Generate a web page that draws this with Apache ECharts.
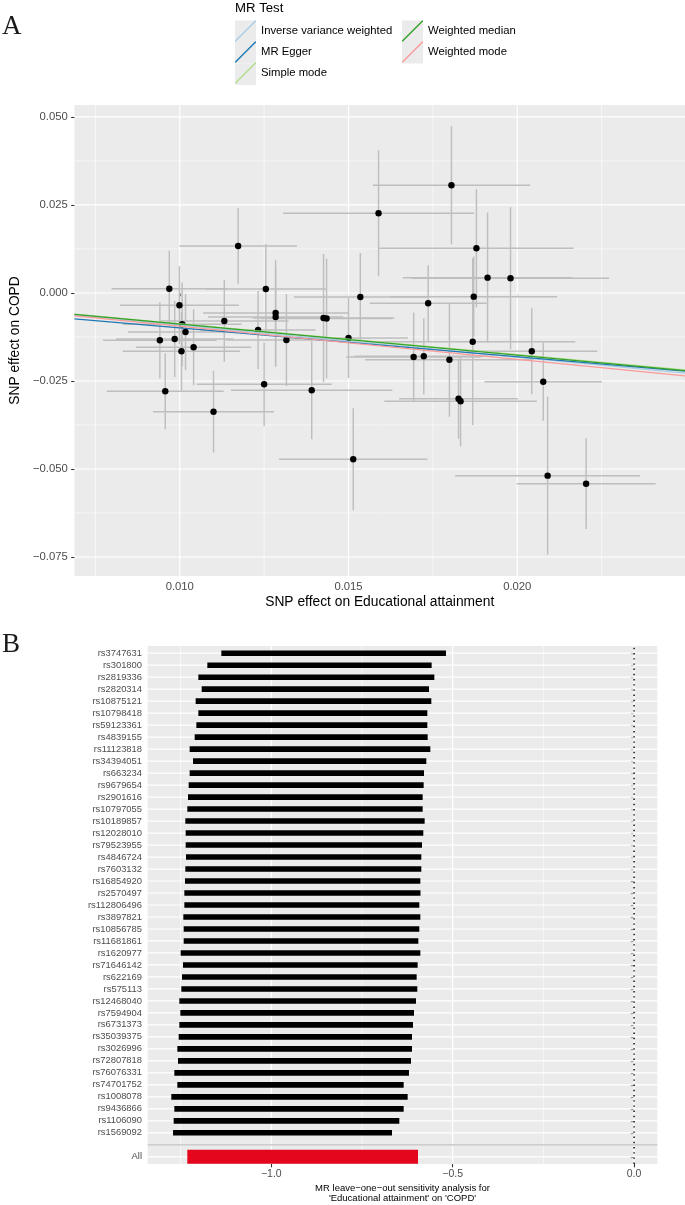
<!DOCTYPE html>
<html>
<head>
<meta charset="utf-8">
<script src="https://cdn.jsdelivr.net/npm/echarts@6/dist/echarts.min.js"></script>
<style>
html,body{margin:0;padding:0;background:#ffffff;}
#chart{width:685px;height:1205px;}
</style>
</head>
<body>
<div id="chart"></div>
<script>
// ---------------- Panel A data: SNP effects ----------------
const snpBetaExposure = [0.01173,0.00969,0.00999,0.01007,0.01017,0.00941,0.00985,0.01005,0.01041,0.01132,
  0.01255,0.01284,0.01284,0.01232,0.01316,0.01426,0.01435,0.01500,0.01535,0.00957,
  0.01250,0.01391,0.01100,0.01514,0.01805,0.01589,0.01879,0.01912,0.01980,0.01736,
  0.01871,0.01868,0.02043,0.01693,0.01723,0.01799,0.02077,0.01826,0.01832,0.02090,0.02204];
const snpBetaOutcome = [0.01335,0.00122,-0.00349,-0.00889,-0.01108,-0.01344,-0.01307,-0.01656,-0.01543,-0.00795,
  0.00114,-0.00568,-0.00682,-0.01051,-0.01335,-0.00710,-0.00724,-0.01278,-0.00114,-0.02793,
  -0.02594,-0.02764,-0.03372,-0.04724,0.03060,0.02264,0.01270,0.00435,0.00418,-0.00293,
  -0.00105,-0.01384,-0.01656,-0.01818,-0.01798,-0.01895,-0.02520,-0.03003,-0.03077,-0.05190,-0.05418];
const snpErrExposure = [0.00174,0.00171,0.00176,0.00176,0.00171,0.00168,0.00174,0.00174,0.00171,0.00190,
  0.00178,0.00215,0.00200,0.00170,0.00180,0.00210,0.00195,0.00176,0.00197,0.00173,
  0.00200,0.00239,0.00179,0.00220,0.00233,0.00283,0.00288,0.00251,0.00292,0.00173,
  0.00247,0.00304,0.00194,0.00200,0.00205,0.00250,0.00174,0.00176,0.00226,0.00274,0.00206];
const snpErrOutcome = [0.0107,0.0108,0.0111,0.0119,0.0108,0.0108,0.0108,0.0111,0.0108,0.0116,
  0.0128,0.0150,0.0142,0.0111,0.0131,0.0182,0.0170,0.0114,0.0125,0.0108,
  0.0119,0.0139,0.0116,0.0145,0.0168,0.0179,0.0168,0.0185,0.0202,0.0108,
  0.0114,0.0237,0.0122,0.0126,0.0108,0.0162,0.0111,0.0114,0.0128,0.0224,0.0129];

const methods = ['Inverse variance weighted','MR Egger','Simple mode','Weighted median','Weighted mode'];
const methodSlope = [-0.913,-0.818,-0.875,-0.884,-0.944];
const methodIntercept = [0,-0.00176,0,0,0];
const methodColors = ['#A6CEE3','#1F78B4','#B2DF8A','#33A02C','#FB9A99'];

const xTicksA = [0.010,0.015,0.020];
const xMinorA = [0.0075,0.0125,0.0175,0.0225];
const yTicksA = [-0.075,-0.050,-0.025,0.000,0.025,0.050];
const yMinorA = [-0.0625,-0.0375,-0.0125,0.0125,0.0375];

// ---------------- Panel B data: leave-one-out ----------------
const looSnps = ['rs3747631','rs301800','rs2819336','rs2820314','rs10875121','rs10798418','rs59123361','rs4839155',
  'rs11123818','rs34394051','rs663234','rs9679654','rs2901616','rs10797055','rs10189857','rs12028010','rs79523955',
  'rs4846724','rs7603132','rs16854920','rs2570497','rs112806496','rs3897821','rs10856785','rs11681861','rs1620977',
  'rs71646142','rs622169','rs575113','rs12468040','rs7594904','rs6731373','rs35039375','rs3026996','rs72807818',
  'rs76076331','rs74701752','rs1008078','rs9436866','rs1106090','rs1569092'];
const looLower = [-1.1377,-1.1763,-1.2011,-1.1919,-1.2085,-1.2011,-1.2066,-1.2112,-1.2250,-1.2158,-1.2250,-1.2278,
  -1.2296,-1.2315,-1.2370,-1.2360,-1.2360,-1.2351,-1.2370,-1.2379,-1.2397,-1.2397,-1.2425,-1.2415,-1.2415,-1.2498,
  -1.2434,-1.2461,-1.2480,-1.2535,-1.2507,-1.2535,-1.2553,-1.2590,-1.2572,-1.2673,-1.2590,-1.2756,-1.2673,-1.2691,-1.2709];
const looUpper = [-0.5185,-0.5580,-0.5506,-0.5653,-0.5589,-0.5699,-0.5699,-0.5690,-0.5617,-0.5727,-0.5791,-0.5800,
  -0.5828,-0.5828,-0.5773,-0.5810,-0.5846,-0.5865,-0.5865,-0.5892,-0.5888,-0.5920,-0.5892,-0.5920,-0.5947,-0.5892,
  -0.5966,-0.5993,-0.5975,-0.6012,-0.6067,-0.6094,-0.6122,-0.6122,-0.6149,-0.6205,-0.6351,-0.6241,-0.6351,-0.6471,-0.6673];
const allLabel = 'All';
const allLower = -1.2315;
const allUpper = -0.5956;

const xTicksB = [-1.0,-0.5,0.0];
const xMinorB = [-1.25,-0.75,-0.25];

// ---------------- helpers ----------------
const MINUS = '\u2212';
function fmt(v, d){ const s = Math.abs(v).toFixed(d); return (v < -1e-12 ? MINUS : '') + s; }

const xMinA = 0.00688, xMaxA = 0.02497, yMinA = -0.0804, yMaxA = 0.0534;
const xMinB = -1.3407, xMaxB = 0.064, yMinB = 0.4, yMaxB = 43.6;
const nRows = looSnps.length + 2; // All + blank separator + SNPs
function rowPos(i){ return nRows - i; } // top SNP at highest position

const FONT = 'Liberation Sans, Arial, sans-serif';

function vLines(values, xi, yi, yExt, color, width, z, dash){
  return {type:'custom', xAxisIndex:xi, yAxisIndex:yi, silent:true, z:z, clip:false,
    data: values.map(v => [v, yExt[0]]),
    encode:{x:0,y:1},
    renderItem:function(p, api){
      const v = api.value(0);
      const a = api.coord([v, yExt[0]]), b = api.coord([v, yExt[1]]);
      return {type:'line', shape:{x1:a[0],y1:a[1],x2:b[0],y2:b[1]},
        style:{stroke:color, lineWidth:width, lineDash: dash || null}};
    }};
}
function hLines(values, xi, yi, xExt, color, width, z){
  return {type:'custom', xAxisIndex:xi, yAxisIndex:yi, silent:true, z:z, clip:false,
    data: values.map(v => [xExt[0], v]),
    encode:{x:0,y:1},
    renderItem:function(p, api){
      const v = api.value(1);
      const a = api.coord([xExt[0], v]), b = api.coord([xExt[1], v]);
      return {type:'line', shape:{x1:a[0],y1:a[1],x2:b[0],y2:b[1]},
        style:{stroke:color, lineWidth:width}};
    }};
}

const series = [];
// Panel A grid lines
series.push(vLines(xMinorA,0,0,[yMinA,yMaxA],'#FFFFFF',0.6,1));
series.push(hLines(yMinorA,0,0,[xMinA,xMaxA],'#FFFFFF',0.6,1));
series.push(vLines(xTicksA,0,0,[yMinA,yMaxA],'#FFFFFF',1.2,1));
series.push(hLines(yTicksA,0,0,[xMinA,xMaxA],'#FFFFFF',1.2,1));

// Panel A error bars
series.push({type:'custom', xAxisIndex:0, yAxisIndex:0, silent:true, z:2,
  data: snpBetaExposure.map((x,i) => [x, snpBetaOutcome[i], snpErrExposure[i], snpErrOutcome[i]]),
  encode:{x:0,y:1},
  renderItem:function(p, api){
    const x = api.value(0), y = api.value(1), ex = api.value(2), ey = api.value(3);
    const h1 = api.coord([x-ex, y]), h2 = api.coord([x+ex, y]);
    const v1 = api.coord([x, y-ey]), v2 = api.coord([x, y+ey]);
    const st = {stroke:'#BEBEBE', lineWidth:1.45};
    return {type:'group', children:[
      {type:'line', shape:{x1:v1[0],y1:v1[1],x2:v2[0],y2:v2[1]}, style:st},
      {type:'line', shape:{x1:h1[0],y1:h1[1],x2:h2[0],y2:h2[1]}, style:st}
    ]};
  }});

// Panel A points
series.push({type:'scatter', xAxisIndex:0, yAxisIndex:0, z:3, symbolSize:6.4, silent:true,
  itemStyle:{color:'#000000', opacity:1},
  data: snpBetaExposure.map((x,i) => [x, snpBetaOutcome[i]])});

// Panel A regression lines
methods.forEach((m,i) => {
  series.push({type:'line', name:m, xAxisIndex:0, yAxisIndex:0, z:4, symbol:'none', silent:true,
    color: methodColors[i],
    itemStyle:{color:methodColors[i]},
    lineStyle:{color:methodColors[i], width:1.25},
    data: [[xMinA, methodIntercept[i] + methodSlope[i]*xMinA],[xMaxA, methodIntercept[i] + methodSlope[i]*xMaxA]]});
});

// Panel B grid lines
const rowValues = [];
for (let r = 1; r <= nRows; r++) rowValues.push(r);
series.push(vLines(xMinorB,1,1,[yMinB,yMaxB],'#FFFFFF',0.6,1));
series.push(vLines(xTicksB,1,1,[yMinB,yMaxB],'#FFFFFF',1.2,1));
series.push(hLines(rowValues,1,1,[xMinB,xMaxB],'#FFFFFF',1.2,1));
// dotted zero line
series.push(vLines([0],1,1,[yMinB,yMaxB],'#000000',1.4,2,[1.4,3.8]));
// separator line at blank row
series.push(hLines([2],1,1,[xMinB,xMaxB],'#BEBEBE',1.3,2));

// Panel B bars
series.push({type:'custom', xAxisIndex:1, yAxisIndex:1, silent:true, z:3,
  data: looSnps.map((s,i) => [looLower[i], looUpper[i], rowPos(i)]),
  encode:{x:[0,1], y:2},
  renderItem:function(p, api){
    const a = api.coord([api.value(0), api.value(2)]), b = api.coord([api.value(1), api.value(2)]);
    const h = 5.6;
    return {type:'rect', shape:{x:a[0], y:a[1]-h/2, width:b[0]-a[0], height:h}, style:{fill:'#000000'}};
  }});
series.push({type:'custom', xAxisIndex:1, yAxisIndex:1, silent:true, z:3,
  data: [[allLower, allUpper, 1]],
  encode:{x:[0,1], y:2},
  renderItem:function(p, api){
    const a = api.coord([api.value(0), api.value(2)]), b = api.coord([api.value(1), api.value(2)]);
    const h = 14;
    return {type:'rect', shape:{x:a[0], y:a[1]-h/2, width:b[0]-a[0], height:h}, style:{fill:'#E3061C'}};
  }});

const yLabelPositions = [1];
for (let i = 0; i < looSnps.length; i++) yLabelPositions.push(rowPos(i));

function legendPair(names, left){
  const base = {orient:'vertical', left:left, top:20.5, itemGap:0, itemWidth:21, itemHeight:21.5,
    itemTextGap:7, selectedMode:false, data:names, padding:0};
  return [
    Object.assign({}, base, {icon:'rect', itemStyle:{color:'#EBEBEB', borderWidth:0, borderColor:'transparent'},
      textStyle:{color:'rgba(0,0,0,0)', fontSize:11.3, fontFamily:FONT}}),
    Object.assign({}, base, {icon:'path://M0,20 L20,0 L21,0 L21,1 L1,21 L0,21 Z',
      itemStyle:{borderWidth:0}, textStyle:{color:'#000000', fontSize:11.3, fontFamily:FONT}})
  ];
}

const option = {
  animation:false,
  backgroundColor:'#FFFFFF',
  textStyle:{fontFamily:FONT},
  title:[
    {text:'A', left:2, top:13, padding:0, textStyle:{fontFamily:'Liberation Serif, DejaVu Serif, serif', fontSize:27, fontWeight:'normal', color:'#1a1a1a'}},
    {text:'B', left:2, top:631, padding:0, textStyle:{fontFamily:'Liberation Serif, DejaVu Serif, serif', fontSize:27, fontWeight:'normal', color:'#1a1a1a'}},
    {text:'MR Test', left:235, top:2, padding:0, textStyle:{fontFamily:FONT, fontSize:13.2, fontWeight:'normal', color:'#000000'}}
  ],
  legend: [].concat(legendPair(methods.slice(0,3), 235), legendPair(methods.slice(3), 402)),
  grid:[
    {left:70, top:105, width:615, height:471, show:true, backgroundColor:'#EBEBEB', borderWidth:0, containLabel:false},
    {left:147.7, top:646, width:509.6, height:520, show:true, backgroundColor:'#EBEBEB', borderWidth:0, containLabel:false}
  ],
  xAxis:[
    {type:'value', gridIndex:0, min:xMinA, max:xMaxA,
      name:'SNP effect on Educational attainment', nameLocation:'middle', nameGap:19,
      nameTextStyle:{fontSize:13.8, color:'#000000', fontFamily:FONT},
      axisLine:{show:false}, splitLine:{show:false},
      axisTick:{show:true, customValues:xTicksA, length:3.3, lineStyle:{color:'#333333', width:1.1}},
      axisLabel:{customValues:xTicksA, formatter:v => fmt(v,3), fontSize:11.3, color:'#4D4D4D', margin:5.5, fontFamily:FONT}},
    {type:'value', gridIndex:1, min:xMinB, max:xMaxB,
      name:'MR leave\u2212one\u2212out sensitivity analysis for\n\'Educational attainment\' on \'COPD\'',
      nameLocation:'middle', nameGap:19,
      nameTextStyle:{fontSize:9.5, lineHeight:10.5, color:'#000000', fontFamily:FONT},
      axisLine:{show:false}, splitLine:{show:false},
      axisTick:{show:true, customValues:xTicksB, length:3.3, lineStyle:{color:'#333333', width:1.1}},
      axisLabel:{customValues:xTicksB, formatter:v => fmt(v,1), fontSize:10.5, color:'#4D4D4D', margin:5, fontFamily:FONT}},
  ],
  yAxis:[
    {type:'value', gridIndex:0, min:yMinA, max:yMaxA,
      name:'SNP effect on COPD', nameLocation:'middle', nameGap:45,
      nameTextStyle:{fontSize:13.8, color:'#000000', fontFamily:FONT},
      axisLine:{show:false}, splitLine:{show:false},
      axisTick:{show:true, customValues:yTicksA, length:3.3, lineStyle:{color:'#333333', width:1.1}},
      axisLabel:{customValues:yTicksA, formatter:v => fmt(v,3), fontSize:11.3, color:'#4D4D4D', margin:6.7, fontFamily:FONT}},
    {type:'value', gridIndex:1, min:yMinB, max:yMaxB,
      axisLine:{show:false}, splitLine:{show:false},
      axisTick:{show:true, customValues:yLabelPositions, length:3.3, lineStyle:{color:'#333333', width:1.1}},
      axisLabel:{customValues:yLabelPositions, fontSize:9.4, color:'#4D4D4D', margin:5.7, fontFamily:FONT,
        formatter:function(v){ const r = Math.round(v); if (r === 1) return allLabel; const i = nRows - r; return looSnps[i] || ''; }}}
  ],
  series: series
};

const chart = echarts.init(document.getElementById('chart'), null, {renderer:'canvas'});
chart.setOption(option);
</script>
</body>
</html>
